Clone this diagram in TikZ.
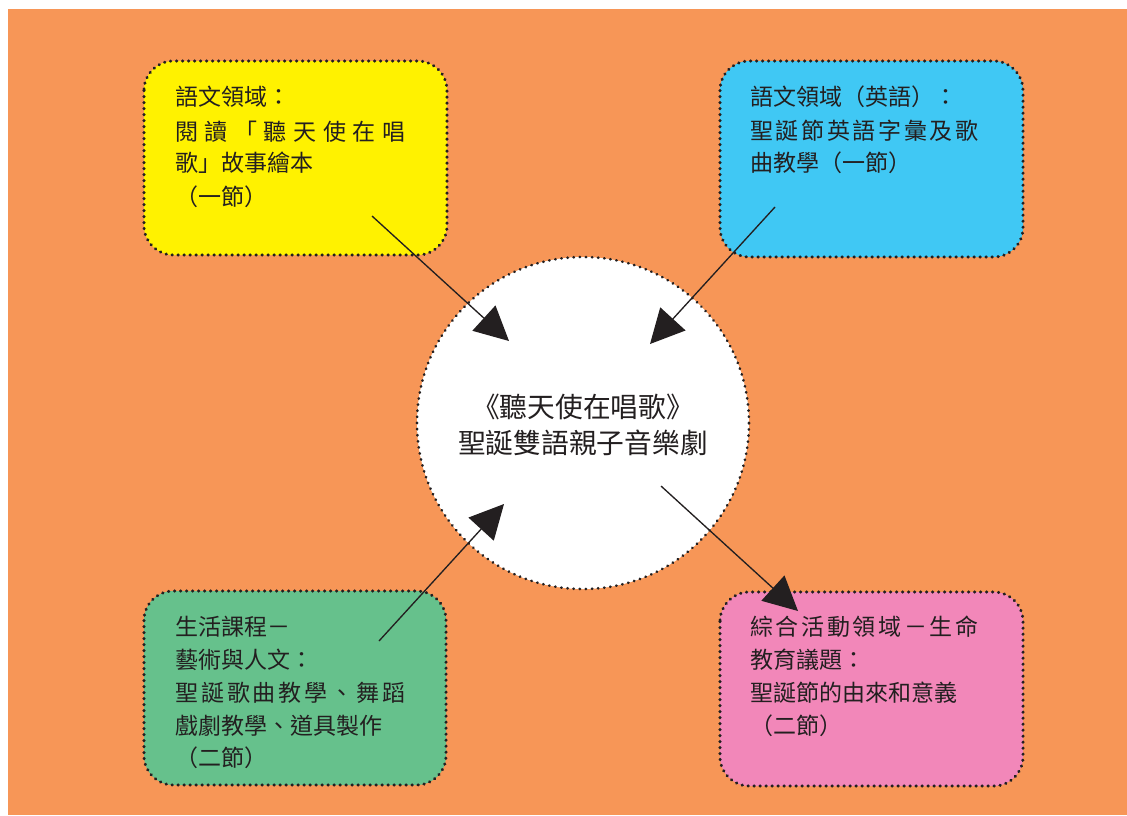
\documentclass[tikz,border=0pt]{standalone}
\usepackage{fontspec}
\newfontfamily\cjk{Noto Sans CJK TC}
\usetikzlibrary{arrows.meta}
\definecolor{bgorange}{HTML}{F79657}
\definecolor{byellow}{HTML}{FFF200}
\definecolor{bblue}{HTML}{40C8F4}
\definecolor{bgreen}{HTML}{66C18C}
\definecolor{bpink}{HTML}{F287B9}
\definecolor{ink}{HTML}{231F20}
\tikzset{
  dotbox/.style={draw=ink, line width=2.3pt, line cap=round, dash pattern=on 0.3pt off 4.2pt, rounded corners=22pt},
  dotcirc/.style={circle, draw=ink, fill=white, line width=2pt, line cap=round, dash pattern=on 0.3pt off 4.3pt, inner sep=0pt, minimum size=249pt},
  ln/.style={anchor=base west, inner sep=0pt, text=ink, font=\cjk\fontsize{17.25}{20}\selectfont},
  ctr/.style={anchor=base, inner sep=0pt, text=ink, font=\cjk\fontsize{20.8}{24}\selectfont},
  arr/.style={draw=ink, line width=1pt, -{Triangle[length=25.5pt,width=25.5pt]}},
}
\begin{document}
\begin{tikzpicture}[x=0.75pt,y=-0.75pt]
\useasboundingbox (0,0) rectangle (1127,815);
\fill[white] (0,0) rectangle (1127,815);
\fill[bgorange] (8,9) rectangle (1127,815);
% boxes
\draw[dotbox, fill=byellow] (144,61) rectangle (447,255);
\draw[dotbox, fill=bblue] (720,61) rectangle (1023,257);
\draw[dotbox, fill=bgreen] (144,591) rectangle (446,785);
\draw[dotbox, fill=bpink] (720,592) rectangle (1023,786);
% circle
\node[dotcirc] (c) at (583,423) {};
% yellow text
\node[ln] (y1) at (175,105.7) {語文領域：};
\node[ln] (y2) at (175,140.2) {\hbox to 172.5pt{閱\hfil 讀\hfil 「\hfil 聽\hfil 天\hfil 使\hfil 在\hfil 唱}};
\node[ln] (y3) at (175,171.7) {歌」故事繪本};
\node[ln] (y4) at (175,205.4) {（一節）};
% blue text
\node[ln] (b1) at (750,105.7) {語文領域（英語）：};
\node[ln] (b2) at (750,139.4) {\hbox to 171pt{聖\hfil 誕\hfil 節\hfil 英\hfil 語\hfil 字\hfil 彙\hfil 及\hfil 歌}};
\node[ln] (b3) at (750,171.7) {曲教學（一節）};
% green text
\node[ln] (g1) at (175,635.7) {生活課程－};
\node[ln] (g2) at (175,668.4) {藝術與人文：};
\node[ln] (g3) at (175,701.2) {\hbox to 172.5pt{聖\hfil 誕\hfil 歌\hfil 曲\hfil 教\hfil 學\hfil 、\hfil 舞\hfil 蹈}};
\node[ln] (g4) at (175,734.0) {戲劇教學、道具製作};
\node[ln] (g5) at (175,766.2) {（二節）};
% pink text
\node[ln] (p1) at (750,635.7) {\hbox to 171pt{綜\hfil 合\hfil 活\hfil 動\hfil 領\hfil 域\hfil －\hfil 生\hfil 命}};
\node[ln] (p2) at (750,668.7) {教育議題：};
\node[ln] (p3) at (750,701.7) {聖誕節的由來和意義};
\node[ln] (p4) at (750,734.4) {（二節）};
% centre text
\node[ctr] (t1) at (583,417.5) {《聽天使在唱歌》};
\node[ctr] (t2) at (583,453.5) {聖誕雙語親子音樂劇};
% arrows
\coordinate (a1s) at (372,216); \coordinate (a1e) at (509,341);
\coordinate (a2s) at (775,207); \coordinate (a2e) at (650,344);
\coordinate (a3s) at (379,641); \coordinate (a3e) at (504,504);
\coordinate (a4s) at (661,486); \coordinate (a4e) at (798,611);
\draw[arr] (a1s) -- (a1e);
\draw[arr] (a2s) -- (a2e);
\draw[arr] (a3s) -- (a3e);
\draw[arr] (a4s) -- (a4e);
\end{tikzpicture}
\end{document}
